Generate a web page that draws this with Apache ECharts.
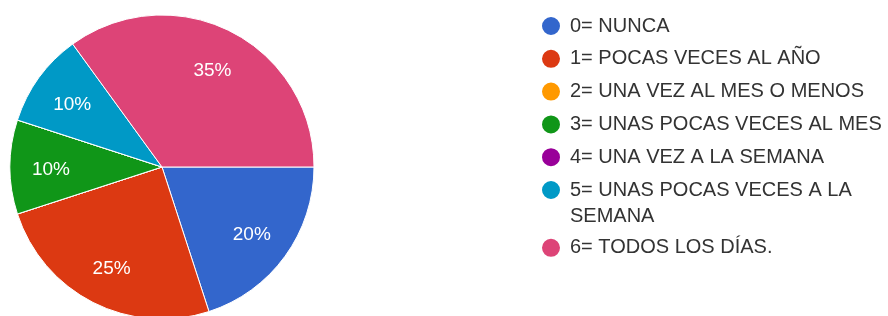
<!DOCTYPE html>
<html>
<head>
<meta charset="utf-8">
<script src="https://cdn.jsdelivr.net/npm/echarts@6/dist/echarts.min.js"></script>
<style>
html,body{margin:0;padding:0;background:#fff;}
#chart{width:888px;height:316px;}
</style>
</head>
<body>
<div id="chart"></div>
<script>
const categories = [
  '0= NUNCA',
  '1= POCAS VECES AL AÑO',
  '2= UNA VEZ AL MES O MENOS',
  '3= UNAS POCAS VECES AL MES',
  '4= UNA VEZ A LA SEMANA',
  '5= UNAS POCAS VECES A LA SEMANA',
  '6= TODOS LOS DÍAS.'
];
const values = [20, 25, 0, 10, 0, 10, 35];
const colors = ['#3366cc', '#dc3912', '#ff9900', '#109618', '#990099', '#0099c6', '#dd4477'];

const FONT = '"Liberation Sans", Arial, sans-serif';
const LEGEND_SIZE = 20;
const LEGEND_LH = 26;
const LEGEND_MAX_W = 320;

const ctx = document.createElement('canvas').getContext('2d');
ctx.font = LEGEND_SIZE + 'px ' + FONT;
function wrap(name) {
  const words = name.split(' ');
  const lines = [];
  let cur = '';
  words.forEach(w => {
    const t = cur ? cur + ' ' + w : w;
    if (cur && ctx.measureText(t).width > LEGEND_MAX_W) { lines.push(cur); cur = w; }
    else cur = t;
  });
  if (cur) lines.push(cur);
  return lines;
}
const wrapped = {};
categories.forEach(c => { wrapped[c] = wrap(c); });

const pieData = categories.map((c, i) => ({ name: c, value: values[i], itemStyle: { color: colors[i] } }));
const labelData = categories.map((c, i) => ({ name: c, value: values[i] }));

const chart = echarts.init(document.getElementById('chart'), null, { renderer: 'canvas' });
chart.setOption({
  animation: false,
  backgroundColor: '#fff',
  legend: {
    orient: 'vertical',
    left: 535,
    top: 10,
    icon: 'circle',
    itemWidth: 20,
    itemHeight: 20,
    itemGap: 10.8,
    selectedMode: false,
    data: categories.map(c => ({
      name: c,
      textStyle: { padding: [(wrapped[c].length - 1) * LEGEND_LH, 0, 0, 4] }
    })),
    formatter: name => wrapped[name].map(l => '{t|' + l + '}').join('\n'),
    textStyle: {
      color: '#333',
      fontFamily: FONT,
      fontSize: LEGEND_SIZE,
      rich: { t: { color: '#333', fontFamily: FONT, fontSize: LEGEND_SIZE, lineHeight: LEGEND_LH } }
    }
  },
  series: [
    {
      type: 'pie',
      center: [162, 167],
      radius: 152,
      startAngle: 0,
      clockwise: true,
      avoidLabelOverlap: false,
      label: { show: false },
      labelLine: { show: false },
      emphasis: { disabled: true },
      itemStyle: { borderColor: '#fff', borderWidth: 1 },
      data: pieData
    },
    {
      type: 'pie',
      center: [162, 167],
      radius: [64, 152],
      startAngle: 0,
      clockwise: true,
      silent: true,
      avoidLabelOverlap: false,
      emphasis: { disabled: true },
      itemStyle: { color: 'rgba(0,0,0,0)', borderWidth: 0 },
      labelLine: { show: false },
      labelLayout: { dy: 3 },
      label: {
        show: true,
        position: 'inside',
        color: '#fff',
        fontFamily: FONT,
        fontSize: 19,
        formatter: p => p.value === 0 ? '' : Math.round(p.percent) + '%'
      },
      data: labelData
    }
  ]
});
</script>
</body>
</html>
